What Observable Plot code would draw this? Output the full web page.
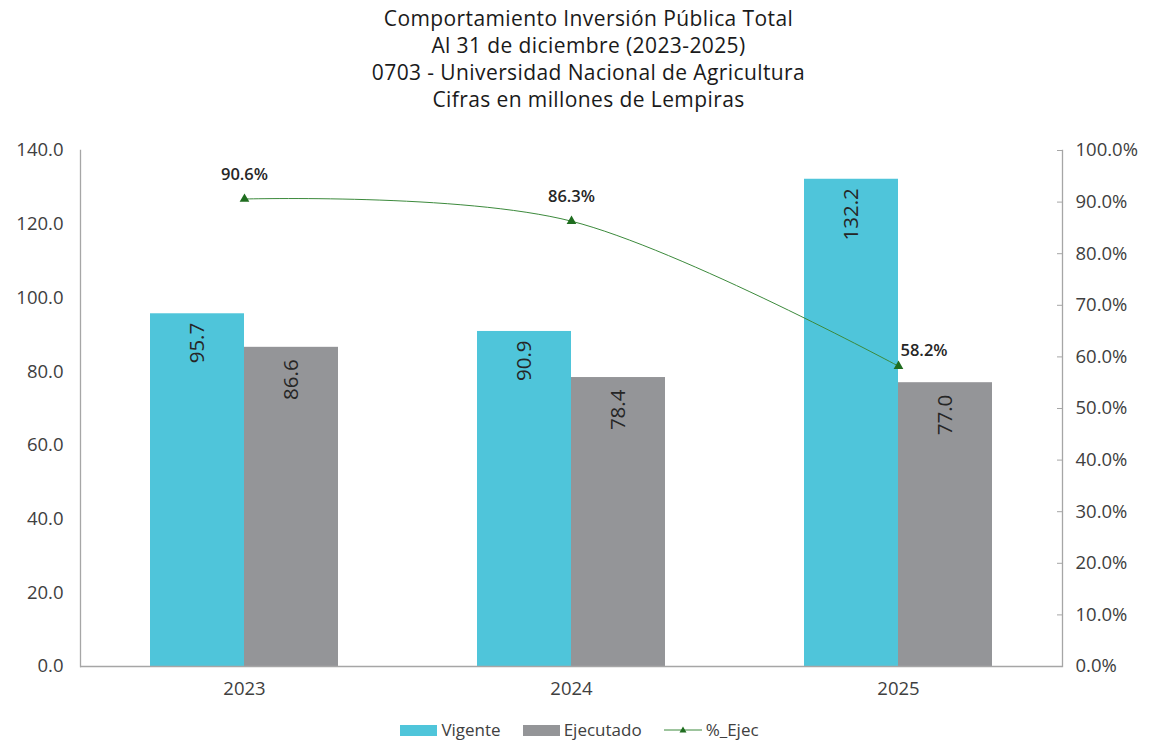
<!DOCTYPE html>
<html><head><meta charset="utf-8">
<script src="https://cdn.jsdelivr.net/npm/d3@7"></script>
<script src="https://cdn.jsdelivr.net/npm/@observablehq/plot@0.6"></script>
<style>
body{margin:0;background:#fff;width:1153px;font-family:"Open Sans",sans-serif;color:#262626}
#title{padding-top:5px;text-align:center;font-family:"Open Sans",sans-serif;font-size:21px;line-height:27px;color:#1a1a1a;padding-left:24px;height:109px;letter-spacing:0.4px}
#chart svg{display:block}
#legend{display:flex;justify-content:center;align-items:center;font-size:17px;line-height:22px;height:22px;color:#404040;margin-top:14px;padding-left:6px}
.item{display:flex;align-items:center;margin:0 11px}
.sw{width:37px;height:11px;margin-right:4px}
</style></head><body>
<div id="title"></div>
<div id="chart"></div>
<div id="legend"></div>
<script>
const titleLines = ["Comportamiento Inversión Pública Total","Al 31 de diciembre (2023-2025)","0703 - Universidad Nacional de Agricultura","Cifras en millones de Lempiras"];
const years = ["2023","2024","2025"];
const vigente = [95.7, 90.9, 132.2];
const ejecutado = [86.6, 78.4, 77.0];
const pctEjec = [90.6, 86.3, 58.2];
const leftTicks = [0,20,40,60,80,100,120,140];
const rightTicks = [0,10,20,30,40,50,60,70,80,90,100];
const seriesNames = ["Vigente","Ejecutado","%_Ejec"];

const C_VIG = "#4fc5da", C_EJE = "#949598", C_LINE = "#3c8a3c", C_MARK = "#1f6d1f";
const scaleK = 140/100; // right axis (0-100%) maps onto left axis (0-140)
const FONT = "Open Sans, sans-serif";

document.getElementById("title").innerHTML = titleLines.map(t=>`<div>${t}</div>`).join("");

const rows = years.map((y,i)=>({year:y, vigente:vigente[i], ejecutado:ejecutado[i], pct:pctEjec[i], pctY:pctEjec[i]*scaleK}));

const W = 1153, ML = 80, MR = 91;
const half = 94;
const chart = Plot.plot({
  width:W, height:591,
  marginLeft:ML, marginRight:MR, marginTop:36, marginBottom:39,
  style:{fontFamily:FONT, fontSize:"18px", color:"#404040", background:"#fff"},
  x:{domain:years, paddingInner:0.4257, paddingOuter:0.2128, label:null},
  y:{domain:[0,140], label:null},
  marks:[
    Plot.barY(rows,{x:"year", y:"vigente", fill:C_VIG, insetRight:half}),
    Plot.barY(rows,{x:"year", y:"ejecutado", fill:C_EJE, insetLeft:half}),
    Plot.text(rows,{x:"year", y:"vigente", text:d=>d.vigente.toFixed(1), rotate:-90, textAnchor:"end", dx:-47, dy:9, fontSize:20.5, fontFamily:FONT, fill:"#262626"}),
    Plot.text(rows,{x:"year", y:"ejecutado", text:d=>d.ejecutado.toFixed(1), rotate:-90, textAnchor:"end", dx:47, dy:12, fontSize:20.5, fontFamily:FONT, fill:"#262626"}),
    Plot.ruleY([0],{stroke:"#a6a6a6", strokeWidth:1.3}),
    Plot.frame({anchor:"left", stroke:"#a6a6a6", strokeWidth:1.3}),
    Plot.frame({anchor:"right", stroke:"#a6a6a6", strokeWidth:1.3}),
    Plot.line(rows,{x:"year", y:"pctY", stroke:C_LINE, strokeWidth:1, curve:"cardinal"}),
    Plot.dot(rows,{x:"year", y:"pctY", symbol:"triangle", r:3.6, fill:C_MARK}),
    Plot.text(rows.filter((d,i)=>i<2),{x:"year", y:"pctY", text:d=>d.pct.toFixed(1)+"%", dy:-24, fontSize:16.5, fontWeight:600, fontFamily:FONT, fill:"#262626"}),
    Plot.text(rows.filter((d,i)=>i==2),{x:"year", y:"pctY", text:d=>d.pct.toFixed(1)+"%", textAnchor:"start", dx:2, dy:-15, fontSize:16.5, fontWeight:600, fontFamily:FONT, fill:"#262626"}),
    Plot.axisY({anchor:"left", ticks:leftTicks, tickSize:0, tickPadding:17, tickFormat:d=>d.toFixed(1), fontSize:18.5, fill:"#404040"}),
    Plot.axisY({anchor:"right", ticks:rightTicks.map(v=>v*scaleK), tickSize:0, tickPadding:13, tickFormat:d=>(d/scaleK).toFixed(1)+"%", fontSize:18.5, fill:"#404040"}),
    Plot.axisY({anchor:"left", ticks:rightTicks.map(v=>v*scaleK), tickSize:5, text:null, dx:W-ML-MR, stroke:"#a6a6a6"}),
    Plot.axisX({tickSize:0, tickPadding:15, fontSize:18.5, fill:"#404040"})
  ]
});
document.getElementById("chart").append(chart);

const lg = document.getElementById("legend");
const swatches = [
  `<div class="sw" style="background:${C_VIG}"></div>`,
  `<div class="sw" style="background:${C_EJE}"></div>`,
  `<svg width="38" height="12" style="margin-right:4px"><line x1="0" y1="6" x2="38" y2="6" stroke="${C_LINE}" stroke-width="1"/><path d="M19,2.5 L22.5,8.5 L15.5,8.5 Z" fill="${C_MARK}"/></svg>`
];
lg.innerHTML = seriesNames.map((n,i)=>`<div class="item">${swatches[i]}<span>${n}</span></div>`).join("");
</script>
</body></html>
